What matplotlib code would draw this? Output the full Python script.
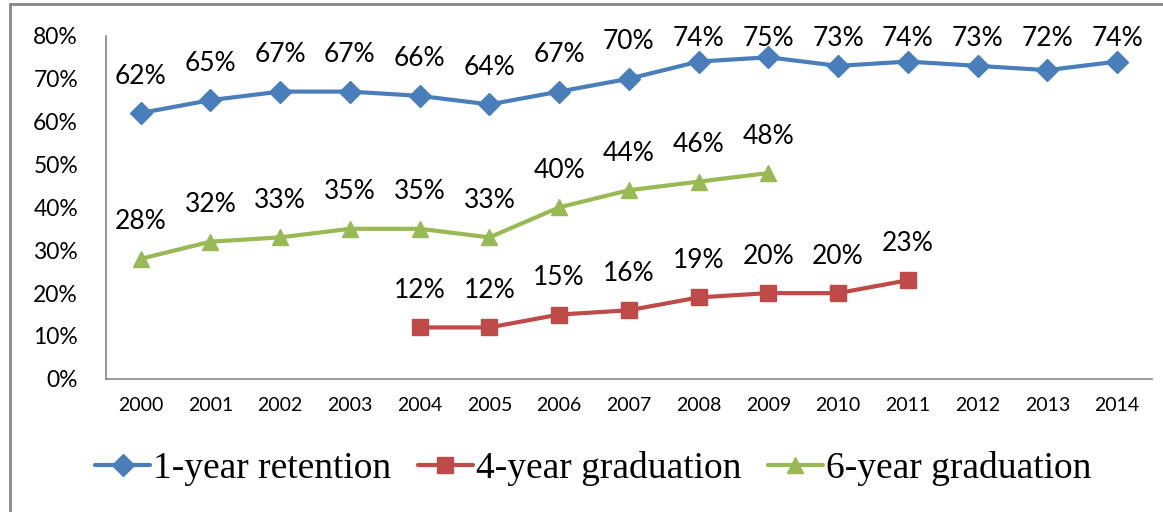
import matplotlib.pyplot as plt
from matplotlib.patches import Rectangle
import numpy as np

years = ['2000', '2001', '2002', '2003', '2004', '2005', '2006', '2007',
         '2008', '2009', '2010', '2011', '2012', '2013', '2014']
retention_1yr = [62, 65, 67, 67, 66, 64, 67, 70, 74, 75, 73, 74, 73, 72, 74]
# 4-year graduation starts in 2004 and ends in 2011
grad_4yr = [None, None, None, None, 12, 12, 15, 16, 19, 20, 20, 23, None, None, None]
# 6-year graduation ends in 2009
grad_6yr = [28, 32, 33, 35, 35, 33, 40, 44, 46, 48, None, None, None, None, None]

series = [
    ('1-year retention', retention_1yr, '#4A7EBB', 'D', 11),
    ('4-year graduation', grad_4yr, '#BE4B48', 's', 11),
    ('6-year graduation', grad_6yr, '#98B954', '^', 12),
]

fig = plt.figure(figsize=(11.63, 5.12), dpi=100)
ax = fig.add_axes([0.091, 0.26, 0.8995, 0.67])

ax.set_xlim(-0.5, len(years) - 0.5)
ax.set_ylim(0, 0.8)

x = np.arange(len(years))
label_top = 512 - 39  # labels are kept inside the chart area, like Excel
for name, vals, color, marker, ms in series:
    xs = [i for i, v in zip(x, vals) if v is not None]
    ys = [v / 100 for v in vals if v is not None]
    ax.plot(xs, ys, color=color, lw=3, marker=marker, markersize=ms,
            label=name, solid_capstyle='round')
    for xi, yi in zip(xs, ys):
        py = ax.transData.transform((xi, yi))[1]
        off = min(py + 37, label_top) - py
        ax.annotate('{:.0f}%'.format(yi * 100), (xi, yi), xytext=(0, off * 0.72),
                    textcoords='offset points', ha='center', va='center',
                    fontsize=19, family='Lato', color='black')

ax.set_xticks(x)
ax.set_xticklabels(years, fontsize=14, family='Lato')
ax.set_yticks(np.arange(0, 0.81, 0.1))
ax.set_yticklabels(['{:.0f}%'.format(v * 100) for v in np.arange(0, 0.81, 0.1)],
                   fontsize=16.5, family='Lato')
ax.tick_params(length=0)
ax.tick_params(axis='x', pad=13)
ax.tick_params(axis='y', pad=20)
for s in ['top', 'right']:
    ax.spines[s].set_visible(False)
for s in ['left', 'bottom']:
    ax.spines[s].set_color('#868686')
    ax.spines[s].set_linewidth(1.2)

# chart border (only top and left visible in the crop)
fig.patches.append(Rectangle((10 / 1163, -0.1), 1.2, 1.1 - 4 / 512,
                             transform=fig.transFigure, fill=False,
                             edgecolor='#868686', lw=2))

fig.legend(loc='center', bbox_to_anchor=(0.51, 0.085), ncol=3, frameon=False,
           prop={'family': 'Liberation Serif', 'size': 27}, handlelength=1.47,
           columnspacing=0.7, handletextpad=0.08)

fig.savefig('out.png', dpi=100)
